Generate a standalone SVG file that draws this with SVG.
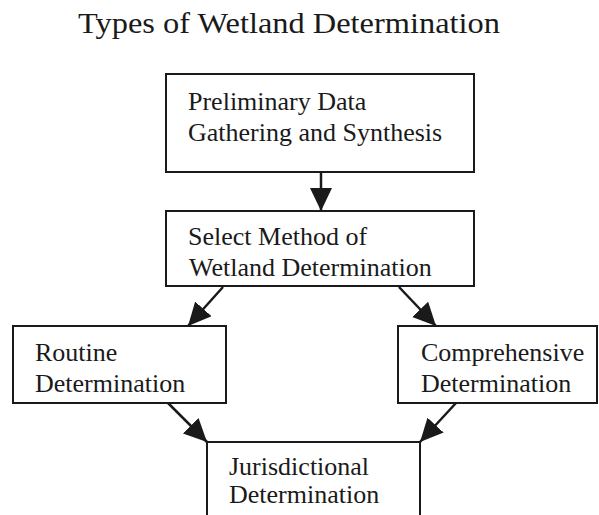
<svg xmlns="http://www.w3.org/2000/svg" width="599" height="515" viewBox="0 0 599 515">
<style>
.box{fill:#fff;stroke:#1a1a1a;stroke-width:2}
.t{font-family:"Liberation Serif","Times New Roman",serif;font-size:26px;fill:#1a1a1a}
.title{font-family:"Liberation Serif","Times New Roman",serif;font-size:30px;fill:#1a1a1a}
.c{stroke:#1a1a1a;stroke-width:2.5;fill:none;marker-end:url(#ah)}
</style>
<defs>
<marker id="ah" markerUnits="userSpaceOnUse" markerWidth="24" markerHeight="24" viewBox="0 0 24 24" refX="23" refY="11" orient="auto">
<path d="M0,0 L23,11 L0,22 z" fill="#1a1a1a"/>
</marker>
</defs>
<rect width="599" height="515" fill="#fff"/>
<text class="title" x="78" y="33" textLength="422" lengthAdjust="spacingAndGlyphs">Types of Wetland Determination</text>
<g id="connectors">
<line class="c" x1="321" y1="173" x2="321" y2="211"/>
<line class="c" x1="223" y1="287" x2="188" y2="326"/>
<line class="c" x1="399" y1="287" x2="436" y2="326"/>
<line class="c" x1="168" y1="403" x2="207" y2="442"/>
<line class="c" x1="456" y1="403" x2="420" y2="442"/>
</g>
<g id="preliminary">
<rect class="box" x="166" y="74" width="308" height="98"/>
<text class="t" x="188" y="110">Preliminary Data</text>
<text class="t" x="188" y="141">Gathering and Synthesis</text>
</g>
<g id="select">
<rect class="box" x="166" y="211" width="308" height="75"/>
<text class="t" x="188" y="245">Select Method of</text>
<text class="t" x="189" y="276">Wetland Determination</text>
</g>
<g id="routine">
<rect class="box" x="13" y="326" width="213" height="77"/>
<text class="t" x="35" y="361">Routine</text>
<text class="t" x="35" y="392">Determination</text>
</g>
<g id="comprehensive">
<rect class="box" x="398" y="326" width="199" height="77"/>
<text class="t" x="421" y="361">Comprehensive</text>
<text class="t" x="421" y="392">Determination</text>
</g>
<g id="jurisdictional">
<rect class="box" x="207" y="442" width="213" height="90"/>
<text class="t" x="229" y="475">Jurisdictional</text>
<text class="t" x="229" y="503">Determination</text>
</g>
</svg>
